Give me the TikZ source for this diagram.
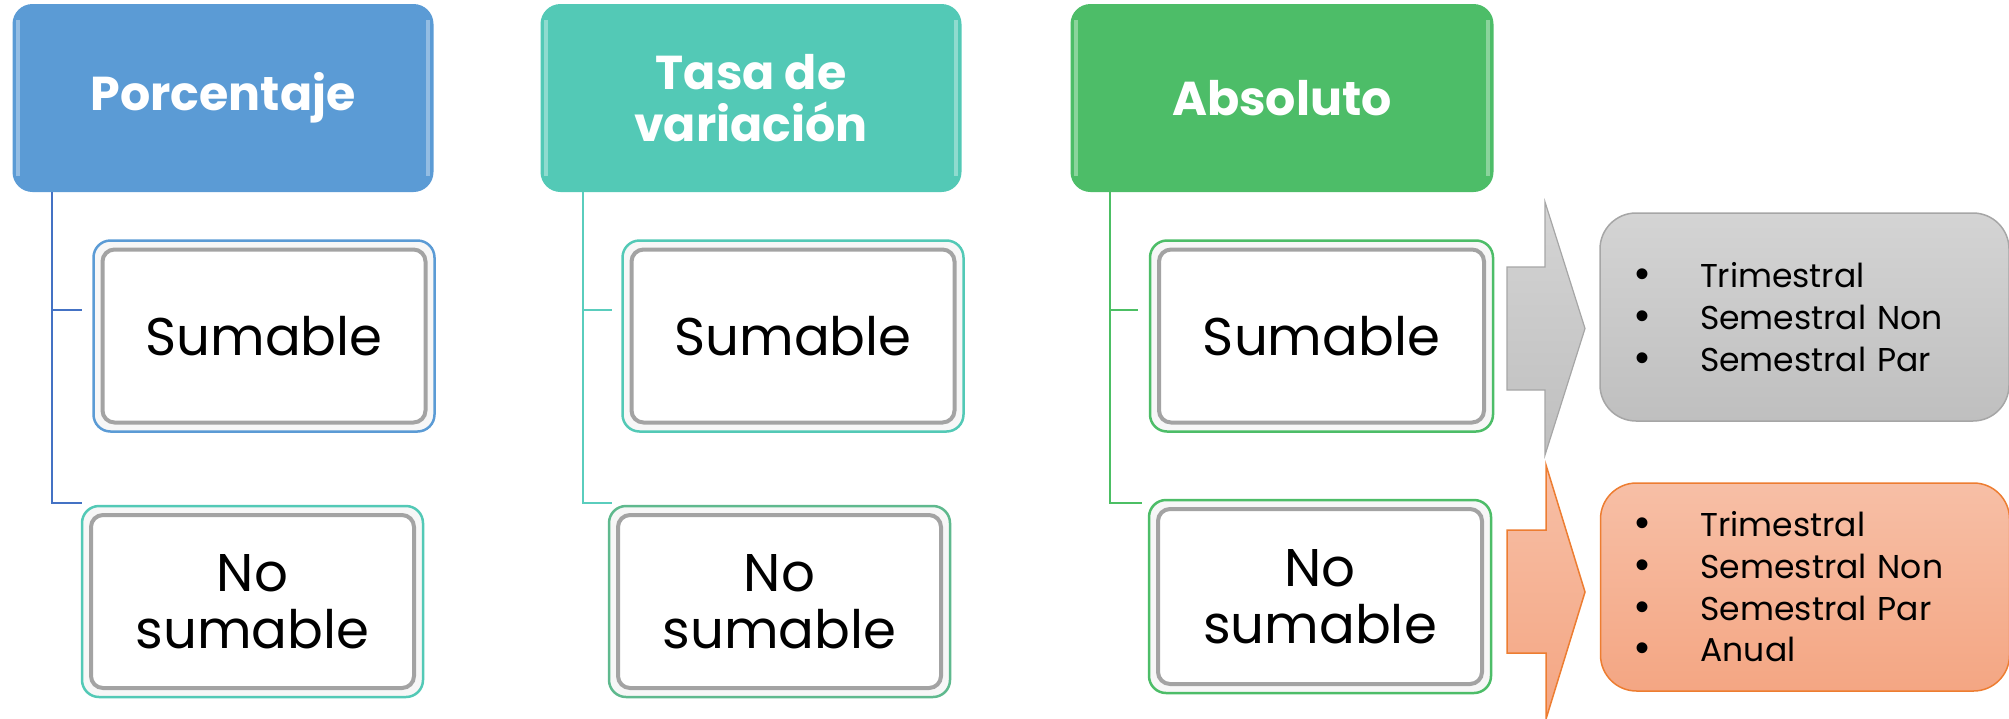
\documentclass[tikz,border=0pt]{standalone}
\usepackage{fontspec}
\setmainfont{Poppins}
\newfontfamily\bulletfont{Liberation Sans}
\usetikzlibrary{positioning}

\definecolor{porcblue}{HTML}{5B9BD5}
\definecolor{tasateal}{HTML}{53C9B6}
\definecolor{absgreen}{HTML}{4DBD68}
\definecolor{porcline}{HTML}{4472C4}
\definecolor{tasaline}{HTML}{5ACDBD}
\definecolor{absline}{HTML}{4CBF64}
\definecolor{nosumteal}{HTML}{5FB98E}
\definecolor{bevelgray}{HTML}{A3A3A3}
\definecolor{boxgraytop}{HTML}{D4D4D4}
\definecolor{boxgraybot}{HTML}{BFBFBF}
\definecolor{boxgrayline}{HTML}{A6A6A6}
\definecolor{boxorgtop}{HTML}{F7BFA6}
\definecolor{boxorgbot}{HTML}{F4A683}
\definecolor{boxorgline}{HTML}{ED7D31}

\tikzset{
  header/.style={rounded corners=20pt, minimum width=421pt, minimum height=188pt,
    text=white, font=\fontsize{47.5}{52}\selectfont\bfseries, align=center, inner sep=0pt},
  glare/.style={white, opacity=.35, line width=4pt},
  bevel/.style={draw=bevelgray, line width=4pt, rounded corners=12pt},
  kind/.style={draw=#1, line width=2.5pt, fill=black!3, rounded corners=17pt,
    minimum width=341pt, minimum height=191pt, align=center, inner sep=0pt,
    font=\fontsize{53}{57}\selectfont,
    path picture={\draw[bevel, fill=white]
      ([shift={(9pt,-9pt)}]path picture bounding box.north west) rectangle
      ([shift={(-9pt,9pt)}]path picture bounding box.south east);}},
  branch/.style={draw=#1, line width=1.8pt},
  listbox/.style={rounded corners=36pt, line width=1.5pt, minimum width=409pt,
    minimum height=208pt, text width=339pt, align=left, inner sep=0pt,
    font=\fontsize{33}{41.7}\selectfont},
  sumarrow/.style={draw=boxgrayline, line width=1.2pt, top color=boxgraytop, bottom color=boxgraybot},
  noarrow/.style={draw=boxorgline, line width=1.5pt, top color=boxorgtop, bottom color=boxorgbot}
}
\newcommand{\itm}[1]{\makebox[65pt][l]{\bulletfont\fontsize{40}{41.7}\selectfont\textbullet}#1}

\begin{document}
\begin{tikzpicture}[x=1pt,y=-1pt]
  \useasboundingbox (0,0) rectangle (2009,718);

  % headers
  \node[header, fill=porcblue] (Porc) at (223,98) {Porcentaje};
  \node[header, fill=tasateal] (Tasa) [right of=Porc, node distance=528pt] {Tasa de\\variación};
  \node[header, fill=absgreen, minimum width=423pt] (Abso) [right of=Tasa, node distance=531pt] {Absoluto};

  \foreach \h in {Porc,Tasa,Abso} {
    \draw[glare] ([xshift=6pt,yshift=-16pt]\h.north west) -- ([xshift=6pt,yshift=16pt]\h.south west);
    \draw[glare] ([xshift=-6pt,yshift=-16pt]\h.north east) -- ([xshift=-6pt,yshift=16pt]\h.south east);
  }

  % sumable / no sumable
  \node[kind=porcblue] (SumP) [below of=Porc, node distance=238pt, xshift=41pt] {Sumable};
  \node[kind=tasateal] (NoP) [below of=Porc, node distance=503.5pt, xshift=29.5pt] {No\\sumable};
  \node[kind=tasateal] (SumT) [below of=Tasa, node distance=238pt, xshift=42pt] {Sumable};
  \node[kind=nosumteal] (NoT) [below of=Tasa, node distance=503.5pt, xshift=28.5pt] {No\\sumable};
  \node[kind=absgreen, minimum width=343pt] (SumA) [below of=Abso, node distance=238pt, xshift=39.5pt] {Sumable};
  \node[kind=absgreen, minimum width=342pt, minimum height=193pt] (NoA) [below of=Abso, node distance=498.5pt, xshift=38pt] {No\\sumable};

  \draw[branch=porcline] ([xshift=40pt]Porc.south west) |- ([xshift=-10pt,yshift=26pt]SumP.west);
  \draw[branch=porcline] ([xshift=40pt]Porc.south west) |- ([xshift=1pt,yshift=2pt]NoP.north west);
  \draw[branch=tasaline] ([xshift=43pt]Tasa.south west) |- ([xshift=-9pt,yshift=26pt]SumT.west);
  \draw[branch=tasaline] ([xshift=43pt]Tasa.south west) |- ([xshift=4pt,yshift=2pt]NoT.north west);
  \draw[branch=absline] ([xshift=40pt]Abso.south west) |- ([xshift=-11pt,yshift=26pt]SumA.west);
  \draw[branch=absline] ([xshift=40pt]Abso.south west) |- ([xshift=-6pt,yshift=-4pt]NoA.north west);

  % arrows and periods
  \draw[sumarrow] (1507,267) -- (1545,267) -- (1545,202) -- (1585,328.5)
    -- (1545,455) -- (1545,390) -- (1507,390) -- cycle;
  \draw[noarrow] (1507,530) -- (1546,530) -- (1546,465) -- (1585,592)
    -- (1546,719) -- (1546,653) -- (1507,653) -- cycle;

  \node[listbox, draw=boxgrayline, top color=boxgraytop, bottom color=boxgraybot] (SumList) at (1804.5,317)
    {\itm{Trimestral}\\\itm{Semestral Non}\\\itm{Semestral Par}};
  \node[listbox, draw=boxorgline, top color=boxorgtop, bottom color=boxorgbot] (NoList) at (1805,587)
    {\itm{Trimestral}\\\itm{Semestral Non}\\\itm{Semestral Par}\\\itm{Anual}};
\end{tikzpicture}
\end{document}
